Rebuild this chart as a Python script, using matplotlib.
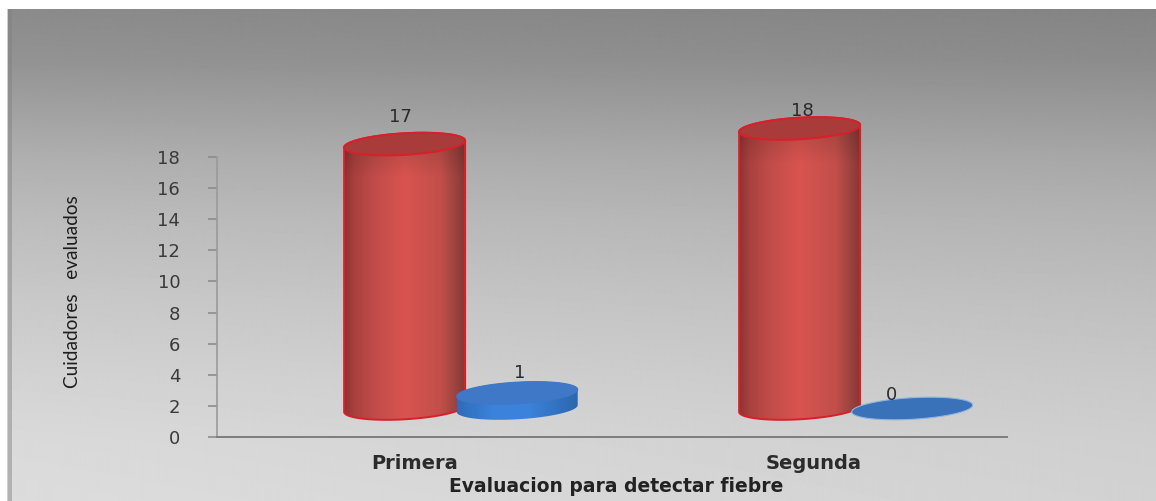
import numpy as np
import matplotlib
matplotlib.use("Agg")
import matplotlib.pyplot as plt
from matplotlib.patches import Polygon, Rectangle
from matplotlib.transforms import ScaledTranslation

# Survey counts per evaluation round
evaluaciones = ["Primera", "Segunda"]
cuidadores_si = [17, 18]
cuidadores_no = [1, 0]
y_ticks = [0, 2, 4, 6, 8, 10, 12, 14, 16, 18]

W, H = 1156, 501
AX_L, AX_R, AX_T, AX_B = 217, 1007, 157, 437
fig = plt.figure(figsize=(W / 100, H / 100), dpi=100, facecolor="white")

# Panel backdrop: grey wash, darker at the top, with a narrow darker strip on the left
bg = fig.add_axes([0, 0, 1, 1], zorder=0)
bg.set_xlim(0, W)
bg.set_ylim(H, 0)
bg.axis("off")
ys = np.array([9, 60, 110, 160, 220, 300, 380, 440, 501])
vs = np.array([0x86, 0x8e, 0x9c, 0xaa, 0xb6, 0xc2, 0xcc, 0xd2, 0xd5]) / 255
yy = np.arange(9, 501)
col = np.interp(yy, ys, vs)
xfade = np.linspace(1.035, 0.985, 300)
panel = np.clip(np.outer(col, xfade), 0, 1)
bg.imshow(panel, extent=(7, W, 501, 9), cmap="gray", vmin=0, vmax=1, aspect="auto",
          interpolation="bilinear")
bg.add_patch(Rectangle((8, 9), 4, 492, fc="#7f7f7f", ec="none", alpha=0.45))
bg.add_patch(Rectangle((7, 9), 1, 492, fc="#d0d0d0", ec="none"))
bg.set_xlim(0, W)
bg.set_ylim(H, 0)

ax = fig.add_axes([AX_L / W, 1 - AX_B / H, (AX_R - AX_L) / W, (AX_B - AX_T) / H], zorder=2)
ax.patch.set_alpha(0)
ax.set_xlim(-0.5, 1.5)
ax.set_ylim(0, 18)
PX = (AX_R - AX_L) / 2      # pixels per category
PY = (AX_B - AX_T) / 18     # pixels per count

WIDTH = 121 / PX
DEPTH = 28.5 / PY           # floor of the 3D scene sits above the axis line
SEMI_B, SHEAR = 10.8 / PY, 3.4 / PY
OFF_RED, OFF_BLUE = -0.025, 0.26

t = np.linspace(0, 2 * np.pi, 181)


def rim(cx, cy, tt):
    return (cx + WIDTH / 2 * np.cos(tt),
            cy + SEMI_B * np.sin(tt) + SHEAR * np.cos(tt))


def shade_array(stops, colors, nx=160, ny=200, top_dark=0.0):
    u = np.linspace(0, 1, nx)
    rgb = np.stack([np.interp(u, stops, [matplotlib.colors.to_rgb(c)[i] for c in colors])
                    for i in range(3)], axis=-1)
    arr = np.repeat(rgb[None, :, :], ny, axis=0)
    if top_dark:
        v = np.linspace(0, 1, ny)
        fac = 1 - top_dark * np.clip(1 - v / 0.16, 0, 1)
        arr = arr * fac[:, None, None]
    return arr


def cylinder(cx, value, stops, colors, top_fc, edge, z, lw=1.6, top_dark=0.0):
    base = DEPTH
    top = DEPTH + value
    tu = np.linspace(0, np.pi, 91)
    # Outline: upper half of the top rim, then lower half of the base rim
    xa, ya = rim(cx, top, tu)
    xb, yb = rim(cx, base, tu + np.pi)
    body = np.column_stack([np.r_[xa, xb], np.r_[ya, yb]])
    clip = Polygon(body, closed=True, transform=ax.transData, fc="none", ec="none")
    ax.add_patch(clip)
    clip.set_clip_on(False)
    im = ax.imshow(shade_array(stops, colors, top_dark=top_dark),
                   extent=(cx - WIDTH / 2, cx + WIDTH / 2, base - SEMI_B - SHEAR, top + SEMI_B + SHEAR),
                   aspect="auto", zorder=z, interpolation="bilinear", origin="upper")
    # Cylinders rise past the top of the axis, so only the outline limits them
    im.set_clip_box(fig.bbox)
    im.set_clip_path(clip)
    if edge:
        ax.add_patch(Polygon(body, closed=True, fc="none", ec=edge, lw=lw, zorder=z + 0.1,
                             clip_on=False, joinstyle="round"))
    xt, yt = rim(cx, top, t)
    ax.add_patch(Polygon(np.column_stack([xt, yt]), closed=True, fc=top_fc,
                         ec=edge if edge else top_fc, lw=lw, zorder=z + 0.2, clip_on=False))


RED_STOPS = [0, 0.08, 0.25, 0.5, 0.8, 0.93, 1]
RED_COLS = ["#8d3331", "#a8403d", "#c04c49", "#d95450", "#c24f4a", "#9a423e", "#863834"]
BLUE_STOPS = [0, 0.3, 0.6, 1]
BLUE_COLS = ["#2f6cb8", "#3b83dc", "#3a82da", "#2c65ad"]

for i, (a, b) in enumerate(zip(cuidadores_si, cuidadores_no)):
    cylinder(i + OFF_RED, a, RED_STOPS, RED_COLS, "#a93b3a", "#d81f2a", 3, lw=1.4, top_dark=0.2)
    if b > 0:
        cylinder(i + OFF_BLUE, b, BLUE_STOPS, BLUE_COLS, "#3f78c6", None, 4, lw=0.8)
    else:
        xe, ye = rim(i + OFF_BLUE, DEPTH + b, t)
        ax.add_patch(Polygon(np.column_stack([xe, ye]), closed=True, fc="#3a72b9",
                             ec="#8fb6e0", lw=0.8, zorder=4, clip_on=False))

# Value labels above each cylinder
label_shift = {(0, 0): (-4, 27), (1, 0): (3, 18), (0, 1): (2.5, 20), (1, 1): (-21, 13)}
for i, (a, b) in enumerate(zip(cuidadores_si, cuidadores_no)):
    for j, (v, off) in enumerate(((a, OFF_RED), (b, OFF_BLUE))):
        dx, dy = label_shift[(i, j)]
        ax.annotate(str(v), (i + off, DEPTH + v), xytext=(dx * 0.72, dy * 0.72),
                    textcoords="offset points", ha="center", va="center", fontsize=13,
                    color="#2b2b2b", annotation_clip=False, zorder=2.5 if (i, j) == (1, 0) else 6)

ax.set_yticks(y_ticks)
ax.set_yticklabels([str(v) for v in y_ticks], fontsize=13, color="#3a3a3a")
ax.set_xticks(range(len(evaluaciones)))
ax.set_xticklabels(evaluaciones, fontsize=14, fontweight="bold", color="#2b2b2b")
ax.tick_params(axis="y", length=6.5, width=1.2, color="#8c8c8c", pad=20)
ax.tick_params(axis="x", length=0, pad=12)
# The second category label sits a few pixels right of its tick position
seg = ax.get_xticklabels()[1]
seg.set_transform(seg.get_transform() + ScaledTranslation(0.04, 0, fig.dpi_scale_trans))
for s in ("top", "right"):
    ax.spines[s].set_visible(False)
ax.spines["left"].set_color("#9a9a9a")
ax.spines["left"].set_linewidth(1.2)
ax.spines["bottom"].set_color("#7d7d7d")
ax.spines["bottom"].set_linewidth(1.4)

fig.text(616 / W, 1 - 486 / H, "Evaluacion para detectar fiebre", ha="center", va="center",
         fontsize=13.5, fontweight="bold", color="#222222")
fig.text(72 / W, 1 - 292 / H, "Cuidadores   evaluados", rotation=90, ha="center", va="center",
         fontsize=13.7, color="#1e1e1e", family=["Lato", "DejaVu Sans"])

fig.savefig("out.png", dpi=100, facecolor="white")
